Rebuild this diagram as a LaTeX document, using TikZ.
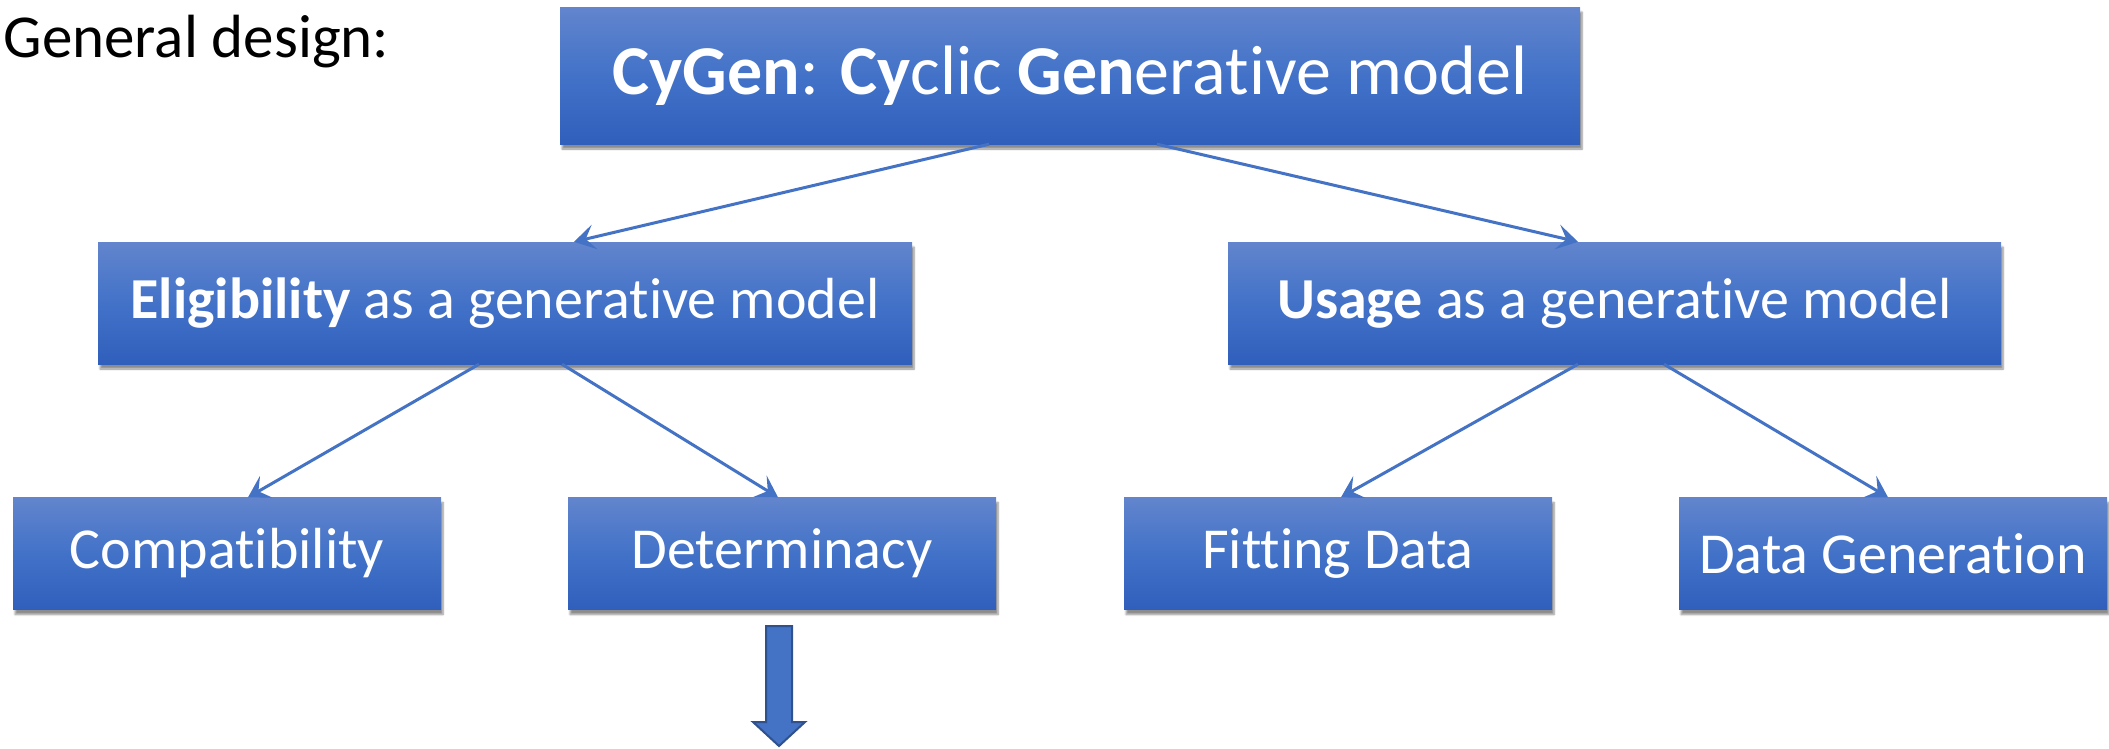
\documentclass[tikz,border=0pt]{standalone}
\usepackage{fontspec}
\setmainfont[RawFeature={-liga;-clig;-calt;-dlig}]{Carlito}
\usetikzlibrary{arrows.meta,shadows.blur}
\definecolor{boxtop}{RGB}{98,133,205}
\definecolor{boxmid}{RGB}{66,114,200}
\definecolor{boxbot}{RGB}{47,95,187}
\definecolor{conn}{RGB}{68,114,196}
\definecolor{connborder}{RGB}{47,82,143}
\tikzset{
  box/.style={rectangle, inner sep=0pt, top color=boxtop, bottom color=boxbot, middle color=boxmid,
    text=white, blur shadow={shadow xshift=2pt, shadow yshift=-5pt, shadow blur steps=6, shadow opacity=45}},
  conna/.style={draw=conn, line width=3pt, -{Stealth[length=21pt,width=25pt,inset=9pt]}},
  bigfont/.style={font=\fontsize{70}{78}\selectfont},
  midfont/.style={font=\fontsize{58}{64}\selectfont},
}
\begin{document}
\begin{tikzpicture}[x=1pt,y=-1pt]
\useasboundingbox (0,0) rectangle (2109,748);
\node[anchor=base west, font=\fontsize{61}{66}\selectfont] (gd) at (0,57) {General design:};
\node[box, bigfont, minimum width=1020pt, minimum height=137pt] (top) at (1070,75.5)
  {\textbf{CyGen}: \textbf{Cy}clic \textbf{Gen}erative model};
\node[box, midfont, minimum width=814pt, minimum height=122pt] (elig) at (505,303)
  {\textbf{Eligibility} as a generative model};
\node[box, midfont, minimum width=773pt, minimum height=122pt] (usage) at (1614.5,303)
  {\textbf{Usage} as a generative model};
\node[box, midfont, minimum width=428pt, minimum height=112pt] (compat) at (227,553.5) {Compatibility};
\node[box, midfont, minimum width=428pt, minimum height=112pt] (determ) at (782,553.5) {Determinacy};
\node[box, midfont, minimum width=428pt, minimum height=112pt] (fit) at (1338,553.5) {Fitting Data};
\node[box, midfont, minimum width=428pt, minimum height=112pt] (datagen) at (1893,553.5) {Data Generation};

\draw[conna] ([xshift=-81pt]top.south) -- ([xshift=69pt]elig.north);
\draw[conna] ([xshift=87pt]top.south) -- ([xshift=-36.5pt]usage.north);
\draw[conna] ([xshift=-26pt]elig.south) -- ([xshift=21pt]compat.north);
\draw[conna] ([xshift=57pt]elig.south) -- ([xshift=-4pt]determ.north);
\draw[conna] ([xshift=-36.5pt]usage.south) -- ([xshift=3pt]fit.north);
\draw[conna] ([xshift=49.5pt]usage.south) -- ([xshift=-5pt]datagen.north);

% block arrow below Determinacy
\draw[draw=connborder, fill=conn, line width=2pt, line join=miter]
  (766,626) -- (792,626) -- (792,722) -- (805,722) -- (779,746) -- (753,722) -- (766,722) -- cycle;
\end{tikzpicture}
\end{document}
